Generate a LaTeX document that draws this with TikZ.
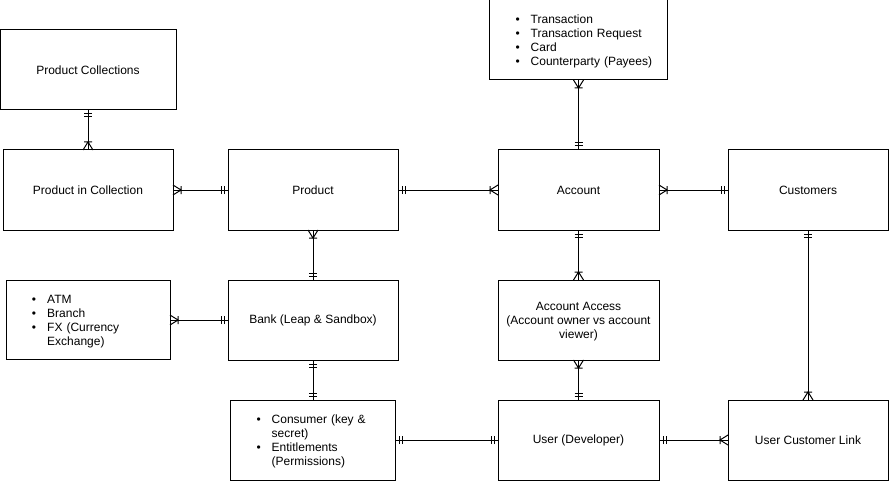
\documentclass[tikz,border=0pt]{standalone}
\usepackage{fontspec}
\usepackage{array}
\setmainfont{Liberation Sans}
\usetikzlibrary{positioning,decorations.markings}
\tikzset{
  box/.style={draw,line width=1pt,outer sep=0pt,minimum width=170pt,minimum height=80pt,inner sep=2pt,align=center,font=\fontsize{12}{14}\selectfont},
  listbox/.style={box,minimum width=0pt,align=left,text width=#1},
  link/.style={line width=1pt},
  one start/.style={postaction={decorate,decoration={markings,
    mark=at position 4pt with {\draw[link] (0,-4pt)--(0,4pt);},
    mark=at position 7pt with {\draw[link] (0,-4pt)--(0,4pt);}}}},
  one end/.style={postaction={decorate,decoration={markings,
    mark=at position -7pt with {\draw[link] (0,-4pt)--(0,4pt);},
    mark=at position -4pt with {\draw[link] (0,-4pt)--(0,4pt);}}}},
  many start/.style={postaction={decorate,decoration={markings,
    mark=at position 8pt with {\draw[link] (0,-4pt)--(0,4pt) (-8pt,5pt)--(0,0)--(-8pt,-5pt);}}}},
  many end/.style={postaction={decorate,decoration={markings,
    mark=at position -8pt with {\draw[link] (0,-4pt)--(0,4pt) (8pt,5pt)--(0,0)--(8pt,-5pt);}}}}
}
\newcommand{\rowstrut}{\rule[-2.7pt]{0pt}{14pt}}
\newcommand{\bulletlist}[1]{{\renewcommand{\arraystretch}{0}\begin{tabular}{@{\hspace{24pt}}>{\rowstrut}l@{\hspace{11pt}}l@{}}#1\end{tabular}}}
\newcommand{\linestack}[1]{{\renewcommand{\arraystretch}{0}\begin{tabular}{@{}>{\rowstrut}c@{}}#1\end{tabular}}}
\begin{document}
\begin{tikzpicture}
\useasboundingbox (0,0) rectangle (890pt,-481pt);
\node[box] (prod) at (313pt,-190pt) {Product};
\node[box,left=55pt of prod] (pic) {Product in Collection};
\node[box,minimum width=176pt,above=40pt of pic] (pcoll) {Product Collections};
\node[box,minimum width=161pt,right=100pt of prod] (acct) {Account};
\node[box,minimum width=160pt,right=69pt of acct] (cust) {Customers};
\node[listbox=174pt,above=70pt of acct] (txn) {\bulletlist{\textbullet & Transaction\\ \textbullet & Transaction Request\\ \textbullet & Card\\ \textbullet & Counterparty (Payees)}};
\node[box,below=50pt of prod] (bank) {Bank (Leap \& Sandbox)};
\node[listbox=160pt,minimum height=79pt,left=58pt of bank] (sites) {\bulletlist{\textbullet & ATM\\ \textbullet & Branch\\ \textbullet & FX (Currency\\ & Exchange)}};
\node[box,minimum width=161pt,below=50pt of acct] (access) {\linestack{Account Access\\(Account owner vs account\\viewer)}};
\node[listbox=161pt,below=40pt of bank] (cons) {\bulletlist{\textbullet & Consumer (key \&\\ & secret)\\ \textbullet & Entitlements\\ & (Permissions)}};
\node[box,minimum width=161pt,below=40pt of access] (user) {User (Developer)};
\node[box,minimum width=160pt,below=170pt of cust] (ucl) {User Customer Link};
\draw[link,one start,many end] (pcoll) -- (pic);
\draw[link,many start,one end] (pic) -- (prod);
\draw[link,one start,many end] (prod) -- (acct);
\draw[link,many start,one end] (acct) -- (cust);
\draw[link,many start,one end] (txn) -- (acct);
\draw[link,many start,one end] (prod) -- (bank);
\draw[link,many start,one end] (sites) -- (bank);
\draw[link,one start,many end] (acct) -- (access);
\draw[link,many start,one end] (access) -- (user);
\draw[link,one start,one end] (bank) -- (cons);
\draw[link,one start,one end] (cons) -- (user);
\draw[link,one start,many end] (user) -- (ucl);
\draw[link,one start,many end] (cust) -- (ucl);
\end{tikzpicture}
\end{document}
